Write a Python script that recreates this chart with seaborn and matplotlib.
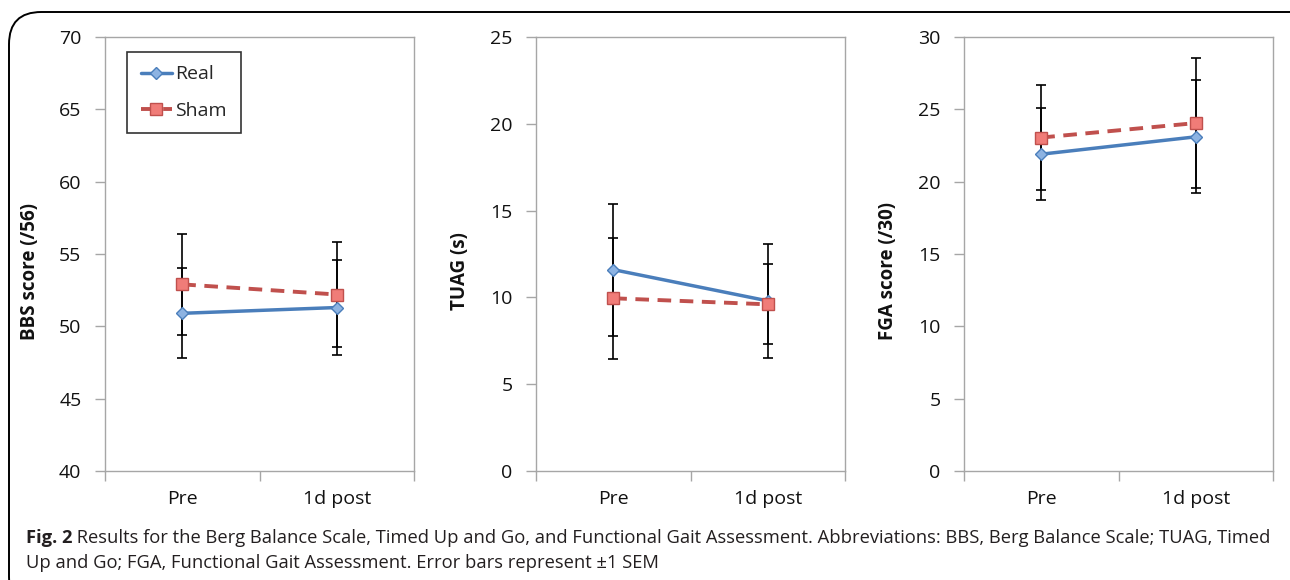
import matplotlib

matplotlib.use("Agg")

import matplotlib.pyplot as plt
import pandas as pd
import seaborn as sns
from matplotlib.patches import FancyBboxPatch

# values (means and SEM)
categories = ["Pre", "1d post"]
groups = ["Real", "Sham"]

bbs_real = [50.9, 51.3]
bbs_real_sem = [3.1, 3.3]
bbs_sham = [52.9, 52.2]
bbs_sham_sem = [3.5, 3.6]

tuag_real = [11.6, 9.8]
tuag_real_sem = [3.8, 3.3]
tuag_sham = [9.95, 9.6]
tuag_sham_sem = [3.5, 2.3]

fga_real = [21.9, 23.1]
fga_real_sem = [3.2, 3.9]
fga_sham = [23.05, 24.05]
fga_sham_sem = [3.6, 4.5]

panel_labels = ["BBS score (/56)", "TUAG (s)", "FGA score (/30)"]
panel_ylims = [(40, 70), (0, 25), (0, 30)]

caption_bold = "Fig. 2"
caption_line1 = (" Results for the Berg Balance Scale, Timed Up and Go, and Functional Gait "
                 "Assessment. Abbreviations: BBS, Berg Balance Scale; TUAG, Timed")
caption_line2 = "Up and Go; FGA, Functional Gait Assessment. Error bars represent \u00b11 SEM"

rows = []
for test, series in [
    ("BBS", [(bbs_real, bbs_real_sem), (bbs_sham, bbs_sham_sem)]),
    ("TUAG", [(tuag_real, tuag_real_sem), (tuag_sham, tuag_sham_sem)]),
    ("FGA", [(fga_real, fga_real_sem), (fga_sham, fga_sham_sem)]),
]:
    for group, (vals, sems) in zip(groups, series):
        for time, v, s in zip(categories, vals, sems):
            rows.append({"test": test, "group": group, "time": time, "score": v, "sem": s})
df = pd.DataFrame(rows)

styles = {
    "Real": dict(color="#4a7ebb", marker="D", markersize=6.5, markerfacecolor="#8db3e2",
                 markeredgecolor="#4a7ebb", markeredgewidth=1.0, linewidth=2.5, linestyle="-"),
    "Sham": dict(color="#c0504d", marker="s", markersize=8.5, markerfacecolor="#f07c78",
                 markeredgecolor="#c0504d", markeredgewidth=1.0, linewidth=2.8,
                 linestyle=(0, (3.5, 2.2))),
}

sns.set_theme(style="white")
plt.rcParams["font.family"] = ["Open Sans", "DejaVu Sans"]

fig = plt.figure(figsize=(12.9, 5.8), dpi=100)
lefts = [105, 536, 964]
label_x = [40, 470, 898]
width = 309
bottom_px, top_px = 471, 37
W, H = 1290, 580

spine_grey = "#a6a6a6"

for i, test in enumerate(["BBS", "TUAG", "FGA"]):
    ax = fig.add_axes([lefts[i] / W, 1 - bottom_px / H, width / W, (bottom_px - top_px) / H])
    sub = df[df["test"] == test]
    for group in groups:
        g = sub[sub["group"] == group]
        ax.errorbar(g["time"], g["score"], yerr=g["sem"], fmt="none", ecolor="black",
                    elinewidth=1.2, capsize=3.5, capthick=1.2, zorder=2)
        sns.lineplot(data=g, x="time", y="score", ax=ax, sort=False, errorbar=None,
                     label=group, zorder=3, **styles[group])

    lo, hi = panel_ylims[i]
    ax.set_ylim(lo, hi)
    ax.set_yticks(range(lo, hi + 1, 5))
    ax.set_xlim(-0.5, 1.5)
    ax.set_xticks(range(len(categories)))
    ax.set_xticklabels(categories, fontsize=14)
    ax.set_xticks([-0.5, 0.5, 1.5], minor=True)
    ax.tick_params(axis="x", which="major", length=0, pad=14, labelcolor="#111111")
    ax.tick_params(axis="x", which="minor", direction="out", length=7, width=1,
                   color=spine_grey, bottom=True)
    ax.tick_params(axis="y", direction="out", length=7, width=1, color=spine_grey,
                   labelsize=14, pad=10, left=True, labelcolor="#111111")
    for sp in ax.spines.values():
        sp.set_color(spine_grey)
        sp.set_linewidth(1.0)
    ax.set_xlabel("")
    ax.set_ylabel(panel_labels[i], fontsize=13.5, fontweight="bold", color="#111111")
    ax.yaxis.set_label_coords((label_x[i] - lefts[i]) / width, 0.46)

    if i == 0:
        leg = ax.legend(loc="upper left", bbox_to_anchor=(0.071, 0.966), borderaxespad=0,
                        frameon=True, fancybox=False, fontsize=14, handlelength=1.6,
                        handletextpad=0.2, labelspacing=0.95, borderpad=0.7)
        leg.get_frame().set_edgecolor("black")
        leg.get_frame().set_linewidth(1.2)
    else:
        ax.get_legend().remove()

# rounded border around the figure panel
border = FancyBboxPatch((9 / W, -0.05), 1.2, 1 - 12 / H + 0.05,
                        boxstyle="round,pad=0,rounding_size=0.025",
                        transform=fig.transFigure, fill=False, edgecolor="black",
                        linewidth=1.4, clip_on=False, mutation_aspect=W / H)
fig.patches.append(border)

cap_size = 13.25
t1 = fig.text(26 / W, 1 - 538 / H, caption_bold, fontsize=cap_size, fontweight="bold",
              va="center", ha="left", color="#231f20")
fig.canvas.draw()
bb = t1.get_window_extent()
fig.text(bb.x1 / W, 1 - 538 / H, caption_line1, fontsize=cap_size, va="center", ha="left",
         color="#231f20")
fig.text(26 / W, 1 - 563 / H, caption_line2, fontsize=cap_size, va="center", ha="left",
         color="#231f20")

fig.savefig("out.png", dpi=100)
plt.close(fig)
